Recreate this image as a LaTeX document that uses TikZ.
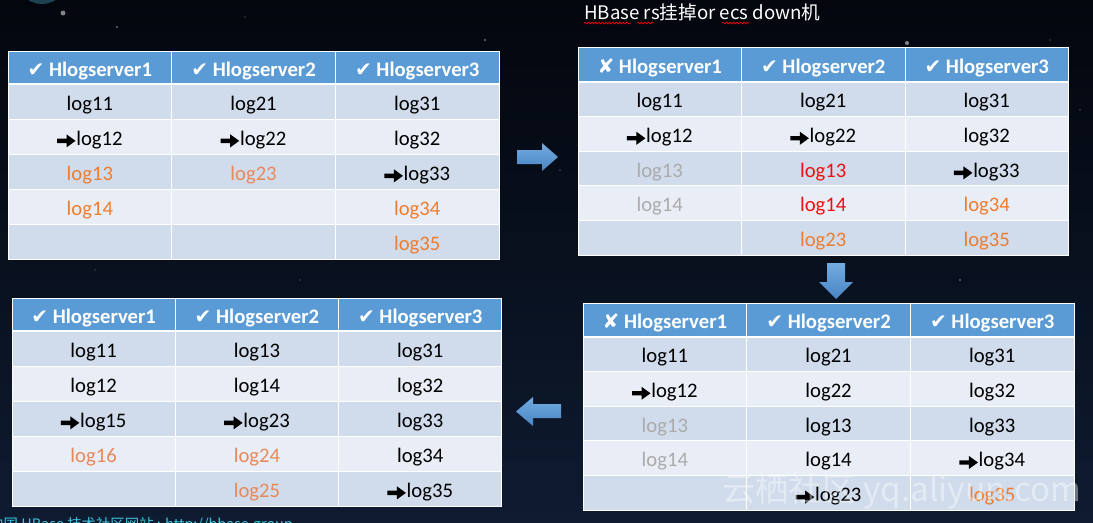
\documentclass[tikz,border=0pt]{standalone}
\usepackage{fontspec}
\setmainfont{Carlito}
\newfontfamily\dejavu{DejaVu Sans}
\newfontfamily\cjk{Noto Sans CJK SC}
\usetikzlibrary{decorations.pathmorphing}
\definecolor{hdr}{HTML}{5B9BD5}
\definecolor{rowa}{HTML}{D0DCEC}
\definecolor{rowb}{HTML}{E9EEF6}
\definecolor{org}{HTML}{ED7D31}
\definecolor{orgb}{HTML}{E8895C}
\definecolor{gryc}{HTML}{ABABAB}
\definecolor{redc}{HTML}{EE1111}
\definecolor{bgtop}{HTML}{03060D}
\definecolor{bgbot}{HTML}{0E1B30}
\definecolor{linkc}{HTML}{3CC6E0}
\definecolor{arrtop}{HTML}{72ACE0}
\definecolor{arrbot}{HTML}{4A84C4}
\definecolor{planet}{HTML}{1E4350}
% heavy pointer arrow drawn as an inline glyph (px units, baseline at 0)
\newcommand\rarr{\tikz[baseline=0pt, x=0.75pt, y=0.75pt]{\fill[black] (0,2.1) -- (9.5,2.1) -- (9.5,-2.2) -- (18.5,4.3) -- (9.5,10.8) -- (9.5,6.5) -- (0,6.5) -- cycle;}\hspace{0.6pt}}
\newcommand\chk{{\dejavu\fontsize{15}{15}\selectfont\char"2714}}
\newcommand\xchk{{\dejavu\fontsize{15}{15}\selectfont\char"2718}}
\newcommand\orng[1]{\textcolor{org}{#1}}
\newcommand\orngb[1]{\textcolor{orgb}{#1}}
\newcommand\gry[1]{\textcolor{gryc}{#1}}
\newcommand\redt[1]{\textcolor{redc}{#1}}
\tikzset{
  cell/.style={draw=white, line width=0.75pt, inner sep=0pt, text=black,
    text height=15pt, text depth=2pt, font=\fontsize{15.5}{18}\selectfont},
  hdrcell/.style={cell, fill=hdr, text=white, font=\bfseries\fontsize{15.5}{18}\selectfont},
  blockarrow/.style={top color=arrtop, bottom color=arrbot},
  wavy/.style={draw=red, line width=0.5pt, decorate, decoration={snake, amplitude=0.7pt, segment length=2.6pt}},
  star/.style={fill=white}
}
% #1 id, #2 left, #3 top, #4 col width, #5 header height, #6 row height, #7 headers, #8 rows
\newcommand\logtable[8]{%
  \foreach \h [count=\i] in {#7} {
    \node[hdrcell, minimum width=#4*0.75pt, minimum height=#5*0.75pt] (#1-h\i)
      at ({#2+(\i-0.5)*#4}, {#3+#5/2}) {\h};
  }
  \foreach \r [count=\j] in {#8} {
    \ifodd\j \def\rowfill{rowa}\else\def\rowfill{rowb}\fi
    \foreach \c [count=\i] in \r {
      \node[cell, fill=\rowfill, minimum width=#4*0.75pt, minimum height=#6*0.75pt] (#1-\j-\i)
        at ({#2+(\i-0.5)*#4}, {#3+#5+(\j-0.5)*#6}) {\c};
    }
  }
  \draw[white, line width=2.2pt] (#2, #3+#5) -- ++(3*#4, 0);
}
\begin{document}
\begin{tikzpicture}[x=0.75pt,y=-0.75pt]
\useasboundingbox (0,0) rectangle (1093,522);
\clip (0,0) rectangle (1093,522);
\shade[top color=bgtop, bottom color=bgbot] (0,0) rectangle (1093,522);
% planet edge and stars
\fill[planet] (42,-22) circle (26);
\foreach \sx/\sy/\sr/\so in {63/13/2.5/0.5, 117/27/0.8/0.6, 245/17/0.7/0.5, 485/40/0.8/0.6, 907/43/2/0.5,
  1020/150/0.8/0.5, 1080/110/0.7/0.5, 560/170/0.7/0.5, 300/280/0.7/0.4, 960/280/0.8/0.5,
  700/450/0.7/0.4, 95/270/0.7/0.4, 1050/40/0.7/0.5, 760/20/0.7/0.4} {
  \fill[star, opacity=\so] (\sx,\sy) circle (\sr);
}
% title
\node[anchor=base west, text=white, inner sep=0pt, font=\cjk\fontsize{14}{16}\selectfont] (title)
  at (584,19) {HBase rs挂掉or ecs down机};
\draw[wavy] (584,23) -- (631,23);
\draw[wavy] (637,23) -- (654,23);
\draw[wavy] (722,23) -- (749,23);
% tables
\logtable{a}{8}{51}{163.7}{33}{35}{\chk{} Hlogserver1,\chk{} Hlogserver2,\chk{} Hlogserver3}{
  {log11,log21,log31},
  {\rarr log12,\rarr log22,log32},
  {\orng{log13},\orngb{log23},\rarr log33},
  {\orng{log14},{},\orng{log34}},
  {{},{},\orng{log35}}}
\logtable{b}{578}{47}{163.5}{35}{34.6}{\xchk{} Hlogserver1,\chk{} Hlogserver2,\chk{} Hlogserver3}{
  {log11,log21,log31},
  {\rarr log12,\rarr log22,log32},
  {\gry{log13},\redt{log13},\rarr log33},
  {\gry{log14},\redt{log14},\orng{log34}},
  {{},\orng{log23},\orng{log35}}}
\logtable{c}{583}{303}{163.7}{34}{34.6}{\xchk{} Hlogserver1,\chk{} Hlogserver2,\chk{} Hlogserver3}{
  {log11,log21,log31},
  {\rarr log12,log22,log32},
  {\gry{log13},log13,log33},
  {\gry{log14},log14,\rarr log34},
  {{},\rarr log23,\orng{log35}}}
\logtable{d}{12}{298}{163.3}{33}{35}{\chk{} Hlogserver1,\chk{} Hlogserver2,\chk{} Hlogserver3}{
  {log11,log13,log31},
  {log12,log14,log32},
  {\rarr log15,\rarr log23,log33},
  {\orngb{log16},\orngb{log24},log34},
  {{},\orngb{log25},\rarr log35}}
% block arrows between tables
\shade[blockarrow] (517,150) -- (542,150) -- (542,143) -- (558,157) -- (542,171) -- (542,164) -- (517,164) -- cycle;
\shade[blockarrow] (827,263) -- (845,263) -- (845,282) -- (853,282) -- (836,299) -- (819,282) -- (827,282) -- cycle;
\shade[blockarrow] (561,404) -- (533,404) -- (533,397) -- (516,411.5) -- (533,426) -- (533,418) -- (561,418) -- cycle;
% watermark and footer
\node[anchor=base west, text=white, opacity=0.4, inner sep=0pt, font=\cjk\fontsize{25}{27}\selectfont] (wm)
  at (722,501) {云栖社区 yq.aliyun.com};
\node[anchor=base west, text=linkc, inner sep=0pt, font=\cjk\fontsize{10.8}{12}\selectfont] (site)
  at (-11,529) {中国 HBase 技术社区网站 : http://hbase.group};
\end{tikzpicture}
\end{document}
